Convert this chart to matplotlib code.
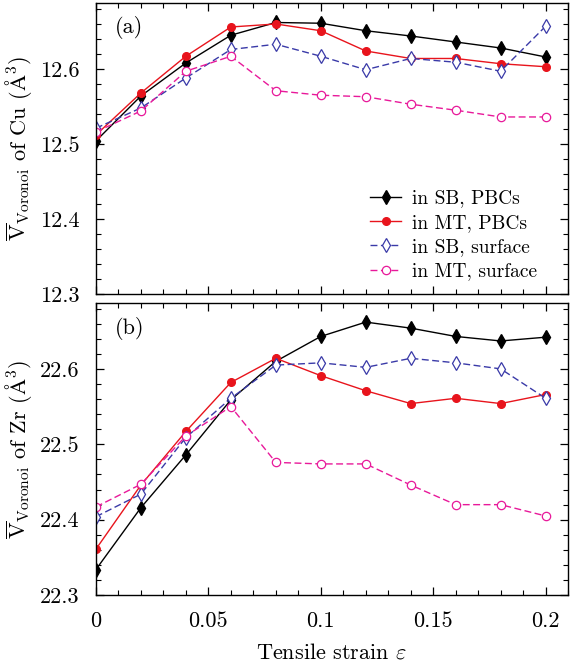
import matplotlib
matplotlib.use("Agg")
import matplotlib.pyplot as plt
from matplotlib.ticker import MultipleLocator, FormatStrFormatter, FuncFormatter

plt.rcParams['font.family'] = 'serif'
plt.rcParams['font.serif'] = ['cmr10']
plt.rcParams['mathtext.fontset'] = 'cm'
plt.rcParams['axes.formatter.use_mathtext'] = True

strain = [0.0, 0.02, 0.04, 0.06, 0.08, 0.10, 0.12, 0.14, 0.16, 0.18, 0.20]

cu_sb_pbc = [12.504, 12.564, 12.608, 12.645, 12.662, 12.661, 12.651, 12.644, 12.636, 12.628, 12.616]
cu_mt_pbc = [12.512, 12.568, 12.617, 12.656, 12.660, 12.651, 12.624, 12.614, 12.614, 12.607, 12.603]
cu_sb_surf = [12.521, 12.548, 12.588, 12.626, 12.633, 12.617, 12.599, 12.614, 12.609, 12.597, 12.657]
cu_mt_surf = [12.516, 12.544, 12.597, 12.617, 12.571, 12.565, 12.563, 12.553, 12.545, 12.536, 12.536]

zr_sb_pbc = [22.334, 22.416, 22.486, 22.559, 22.610, 22.643, 22.662, 22.654, 22.643, 22.637, 22.642]
zr_mt_pbc = [22.361, 22.446, 22.517, 22.582, 22.614, 22.591, 22.571, 22.554, 22.561, 22.554, 22.566]
zr_sb_surf = [22.404, 22.434, 22.509, 22.561, 22.605, 22.608, 22.602, 22.614, 22.608, 22.600, 22.561]
zr_mt_surf = [22.417, 22.447, 22.511, 22.550, 22.476, 22.474, 22.474, 22.446, 22.420, 22.420, 22.405]

labels = ['in SB, PBCs', 'in MT, PBCs', 'in SB, surface', 'in MT, surface']
styles = [
    dict(color='black', ls='-', marker='d', mfc='black', mec='black', ms=7),
    dict(color='#e8141c', ls='-', marker='o', mfc='#e8141c', mec='#e8141c', ms=5.5),
    dict(color='#3a3aa8', ls=(0, (5, 2.5)), marker='d', mfc='white', mec='#3a3aa8', ms=7, mew=0.9),
    dict(color='#e8199a', ls=(0, (5, 2.5)), marker='o', mfc='white', mec='#e8199a', ms=6, mew=0.9),
]

fig = plt.figure(figsize=(5.71, 6.65), dpi=100)
ax1 = fig.add_axes([0.168, 0.558, 0.827, 0.4375])
ax2 = fig.add_axes([0.168, 0.105, 0.827, 0.439])

for ax, data, ylim, name in [
    (ax1, [cu_sb_pbc, cu_mt_pbc, cu_sb_surf, cu_mt_surf], (12.3, 12.688), 'Cu'),
    (ax2, [zr_sb_pbc, zr_mt_pbc, zr_sb_surf, zr_mt_surf], (22.3, 22.687), 'Zr'),
]:
    for d, lab, st in zip(data, labels, styles):
        ax.plot(strain, d, lw=1.0, label=lab, **st)
    ax.set_xlim(0, 0.21)
    ax.set_ylim(*ylim)
    ax.xaxis.set_major_locator(MultipleLocator(0.05))
    ax.xaxis.set_minor_locator(MultipleLocator(0.01))
    ax.yaxis.set_major_locator(MultipleLocator(0.1))
    ax.yaxis.set_minor_locator(MultipleLocator(0.02))
    ax.yaxis.set_major_formatter(FormatStrFormatter('%.1f'))
    ax.tick_params(which='both', direction='in', top=True, right=True, labelsize=16)
    ax.tick_params(which='major', length=6, width=0.9, pad=12)
    ax.tick_params(which='minor', length=3.5, width=0.8)
    for s in ax.spines.values():
        s.set_linewidth(1.0)
    ax.set_ylabel(r'$\overline{\rm V}_{\rm Voronoi}$ of ' + name + r' ($\rm\AA^3$)', fontsize=16, labelpad=4)

ax1.tick_params(labelbottom=False)
ax2.xaxis.set_major_formatter(FuncFormatter(lambda v, p: ('%g' % round(v, 3))))
ax2.set_xlabel(r'Tensile strain $\varepsilon$', fontsize=16, labelpad=8)

ax1.text(0.04, 0.915, '(a)', transform=ax1.transAxes, fontsize=16, va='center')
ax2.text(0.04, 0.915, '(b)', transform=ax2.transAxes, fontsize=16, va='center')

ax1.legend(loc='lower right', frameon=False, fontsize=14, handlelength=1.6,
           bbox_to_anchor=(0.95, 0.02), borderaxespad=0.0, labelspacing=0.33,
           handletextpad=0.55)

fig.savefig('out.png', dpi=100)
